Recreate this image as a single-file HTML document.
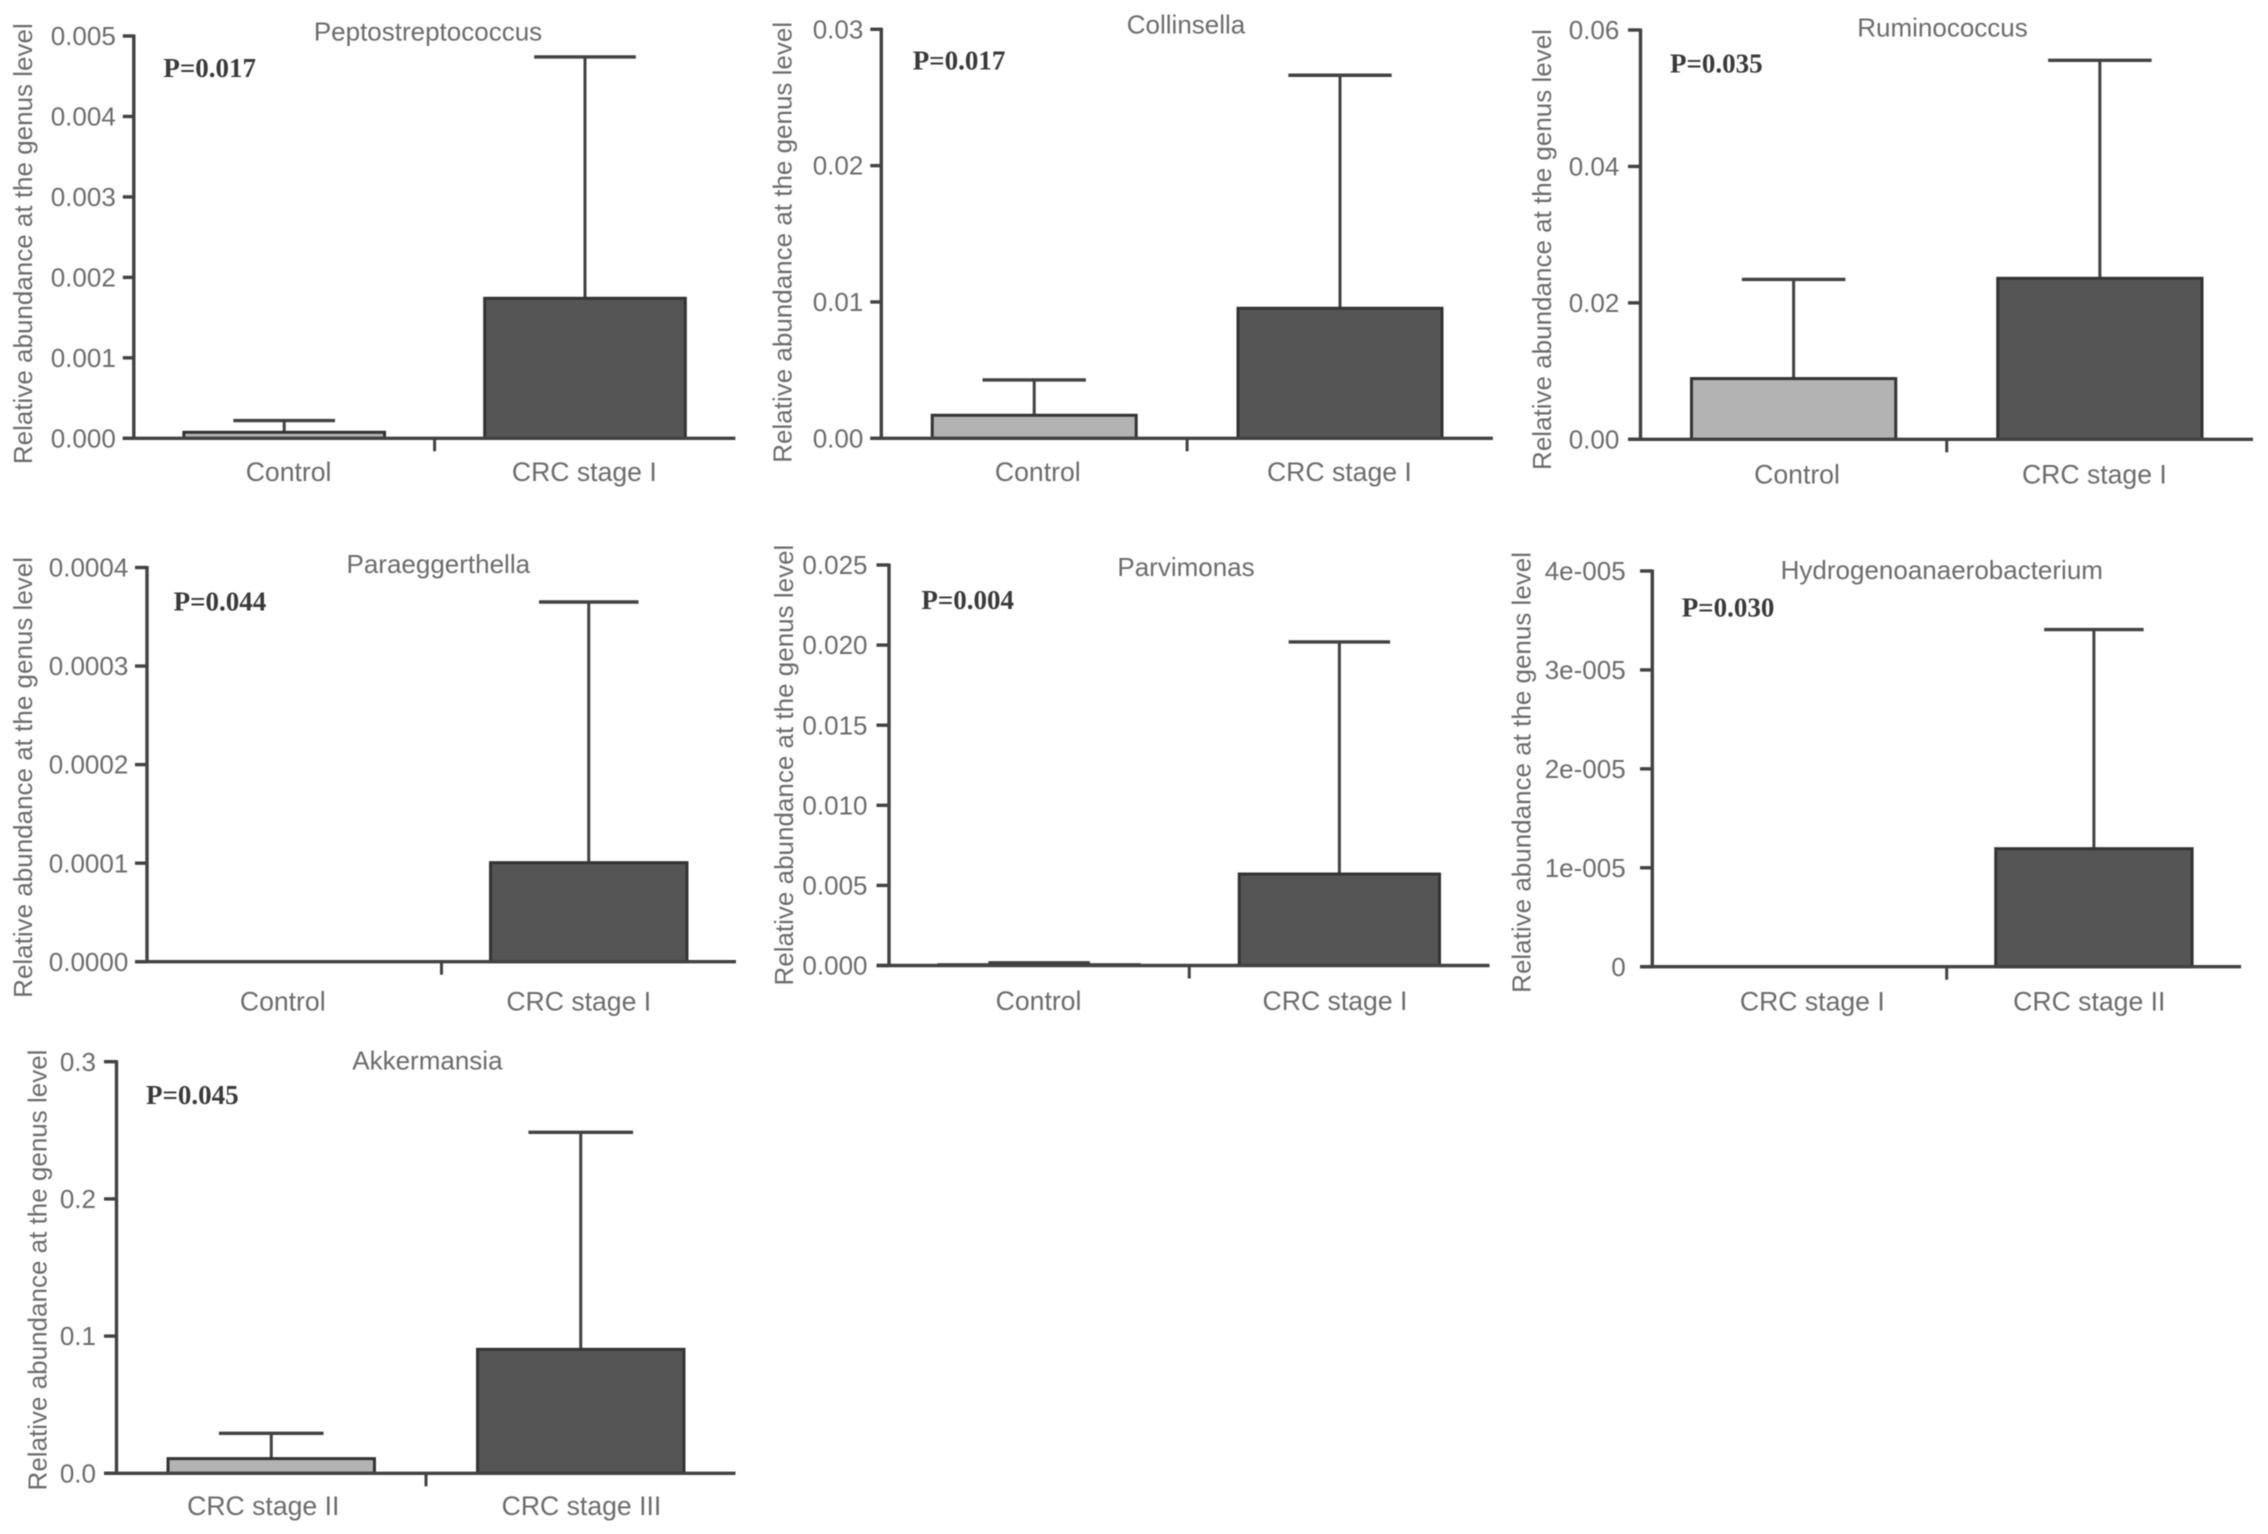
<!DOCTYPE html>
<html lang="en">
<head>
<meta charset="utf-8">
<title>Relative abundance at the genus level</title>
<style>
html,body{margin:0;padding:0;background:#fff;width:2268px;height:1534px;overflow:hidden}
#figure{display:block;filter:blur(.6px)}
text{font-family:"Liberation Sans",sans-serif;font-size:26px;fill:#6c6c6c}
.cat{font-size:26.6px}
.pv{font-family:"Liberation Serif",serif;font-weight:bold;font-size:27px;fill:#3a3a3a}
</style>
</head>
<body>
<svg id="figure" xmlns="http://www.w3.org/2000/svg" width="2268" height="1534" viewBox="0 0 2268 1534"></svg>
<script>
const yAxisTitle = "Relative abundance at the genus level";

const peptoCategories = ["Control", "CRC stage I"];
const peptoMeans = [0.000075, 0.00174];
const peptoUppers = [0.00022, 0.00474];
const peptoTicks = [0, 0.001, 0.002, 0.003, 0.004, 0.005];
const peptoTickLabels = ["0.000", "0.001", "0.002", "0.003", "0.004", "0.005"];

const collinCategories = ["Control", "CRC stage I"];
const collinMeans = [0.00169, 0.00954];
const collinUppers = [0.00428, 0.02663];
const collinTicks = [0, 0.01, 0.02, 0.03];
const collinTickLabels = ["0.00", "0.01", "0.02", "0.03"];

const ruminoCategories = ["Control", "CRC stage I"];
const ruminoMeans = [0.0089, 0.0236];
const ruminoUppers = [0.02344, 0.05555];
const ruminoTicks = [0, 0.02, 0.04, 0.06];
const ruminoTickLabels = ["0.00", "0.02", "0.04", "0.06"];

const paraCategories = ["Control", "CRC stage I"];
const paraMeans = [0, 0.0001005];
const paraUppers = [0, 0.000365];
const paraTicks = [0, 0.0001, 0.0002, 0.0003, 0.0004];
const paraTickLabels = ["0.0000", "0.0001", "0.0002", "0.0003", "0.0004"];

const parviCategories = ["Control", "CRC stage I"];
const parviMeans = [0.00005, 0.00571];
const parviUppers = [0.00017, 0.0202];
const parviTicks = [0, 0.005, 0.01, 0.015, 0.02, 0.025];
const parviTickLabels = ["0.000", "0.005", "0.010", "0.015", "0.020", "0.025"];

const hydroCategories = ["CRC stage I", "CRC stage II"];
const hydroMeans = [0, 0.00001193];
const hydroUppers = [0, 0.00003408];
const hydroTicks = [0, 0.00001, 0.00002, 0.00003, 0.00004];
const hydroTickLabels = ["0", "1e-005", "2e-005", "3e-005", "4e-005"];

const akkerCategories = ["CRC stage II", "CRC stage III"];
const akkerMeans = [0.0107, 0.09036];
const akkerUppers = [0.02915, 0.2485];
const akkerTicks = [0, 0.1, 0.2, 0.3];
const akkerTickLabels = ["0.0", "0.1", "0.2", "0.3"];

const NS = "http://www.w3.org/2000/svg";
const root = document.getElementById("figure");
const INK = "#424242";
const BAR_FILLS = ["#b3b3b3", "#555555"];

function make(tag, parent, attrs) {
  const el = document.createElementNS(NS, tag);
  for (const k in attrs) el.setAttribute(k, attrs[k]);
  parent.appendChild(el);
  return el;
}

function seg(parent, x1, y1, x2, y2, w) {
  return make("line", parent, {x1: x1, y1: y1, x2: x2, y2: y2, stroke: INK, "stroke-width": w});
}

function drawPanel(f, title, pValue, categories, means, uppers, ticks, tickLabels) {
  const g = make("g", root, {});
  
  

  const yMax = ticks[ticks.length - 1];
  const yScale = function (v) { return f.base - (v / yMax) * (f.base - f.top); };
  const band = (f.right - f.left) / categories.length;
  const xScale = function (i) { return f.left + band * (i + 0.5); };
  const barW = band * 0.667;
  const capW = band * 0.338;

  means.forEach(function (m, i) {
    const cx = xScale(i);
    const yTop = yScale(m);
    const yErr = yScale(uppers[i]);
    if (uppers[i] > m) {
      const stem = seg(g, cx, yErr, cx, yTop, 3);
      
      
      const cap = seg(g, cx - capW / 2, yErr, cx + capW / 2, yErr, 3.4);
      
      
    }
    if (m > 0) {
      const bar = make("rect", g, {x: cx - barW / 2, y: yTop, width: barW, height: f.base - yTop,
        fill: BAR_FILLS[i], stroke: "#333333", "stroke-width": 3});
      
      
    }
  });

  const yAxis = seg(g, f.left, f.top - 1.5, f.left, f.base + 1.5, 3.4);
  
  
  const xAxis = seg(g, f.left - f.tickLen, f.base, f.right, f.base, 3.4);
  
  
  const sep = seg(g, f.left + band, f.base, f.left + band, f.base + 13, 3);
  
  

  ticks.forEach(function (t, i) {
    const y = yScale(t);
    const tick = seg(g, f.left - f.tickLen, y, f.left, y, 3.4);
    
    
    const lab = make("text", g, {x: f.left - f.tickLen - f.labelGap, y: y, dy: "0.35em", "text-anchor": "end"});
    lab.textContent = tickLabels[i];
    
    
  });

  categories.forEach(function (c, i) {
    const lab = make("text", g, {x: xScale(i) + f.catShift[i], y: f.catY, dy: "0.35em", "text-anchor": "middle", "class": "cat"});
    lab.textContent = c;
    
    
  });

  const titleEl = make("text", g, {x: f.titleX, y: f.titleY, dy: "0.35em", "text-anchor": "middle"});
  titleEl.textContent = title;
  
  

  const pEl = make("text", g, {x: f.pX, y: f.pY, dy: "0.33em", "class": "pv"});
  pEl.textContent = pValue;
  
  

  const yt = make("text", g, {x: 0, y: 0, dy: "0.35em", "text-anchor": "middle",
    transform: "translate(" + f.yTitleX + " " + f.yTitleY + ") rotate(-90)"});
  yt.textContent = yAxisTitle;
  
  
}

drawPanel({left: 133.8, right: 735.4, top: 36, base: 438.3, tickLen: 11, labelGap: 7,
  catY: 471.5, catShift: [4.4, -0.7], titleX: 428, titleY: 31.5, pX: 163.4, pY: 68, yTitleX: 23.1, yTitleY: 243.7},
  "Peptostreptococcus", "P=0.017", peptoCategories, peptoMeans, peptoUppers, peptoTicks, peptoTickLabels);

drawPanel({left: 881.3, right: 1492.9, top: 29.3, base: 438.3, tickLen: 11, labelGap: 7,
  catY: 471.5, catShift: [3.6, -0.6], titleX: 1186, titleY: 24.5, pX: 912.7, pY: 60.7, yTitleX: 782.5, yTitleY: 242.3},
  "Collinsella", "P=0.017", collinCategories, collinMeans, collinUppers, collinTicks, collinTickLabels);

drawPanel({left: 1640.5, right: 2253, top: 30, base: 439.3, tickLen: 12.5, labelGap: 8.7,
  catY: 474.4, catShift: [3.4, -5.5], titleX: 1942.5, titleY: 27.5, pX: 1670, pY: 63.6, yTitleX: 1541.9, yTitleY: 249.5},
  "Ruminococcus", "P=0.035", ruminoCategories, ruminoMeans, ruminoUppers, ruminoTicks, ruminoTickLabels);

drawPanel({left: 147, right: 736, top: 567.5, base: 961.7, tickLen: 12, labelGap: 6.7,
  catY: 1001, catShift: [-11.5, -10], titleX: 438.3, titleY: 564, pX: 173.6, pY: 601.7, yTitleX: 23.1, yTitleY: 777.4},
  "Paraeggerthella", "P=0.044", paraCategories, paraMeans, paraUppers, paraTicks, paraTickLabels);

drawPanel({left: 889, right: 1489.5, top: 565, base: 965.5, tickLen: 12.5, labelGap: 9,
  catY: 1000.5, catShift: [-0.6, -4.4], titleX: 1186, titleY: 567, pX: 921.4, pY: 600.3, yTitleX: 784, yTitleY: 765.1},
  "Parvimonas", "P=0.004", parviCategories, parviMeans, parviUppers, parviTicks, parviTickLabels);

drawPanel({left: 1652.3, right: 2241.1, top: 571, base: 966.7, tickLen: 12.3, labelGap: 14.3,
  catY: 1001, catShift: [12.8, -4.6], titleX: 1941.8, titleY: 569.9, pX: 1681.7, pY: 607.5, yTitleX: 1521.6, yTitleY: 772.4},
  "Hydrogenoanaerobacterium", "P=0.030", hydroCategories, hydroMeans, hydroUppers, hydroTicks, hydroTickLabels);

drawPanel({left: 116.5, right: 735.5, top: 1061.7, base: 1473.3, tickLen: 12.5, labelGap: 8,
  catY: 1505.5, catShift: [-8, 0.7], titleX: 427.4, titleY: 1060.2, pX: 146, pY: 1095, yTitleX: 37.6, yTitleY: 1270},
  "Akkermansia", "P=0.045", akkerCategories, akkerMeans, akkerUppers, akkerTicks, akkerTickLabels);
</script>
</body>
</html>
